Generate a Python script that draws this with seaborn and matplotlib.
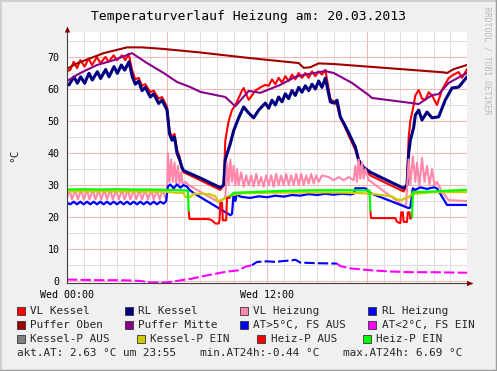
import matplotlib
matplotlib.use("Agg")
import matplotlib.pyplot as plt
import seaborn as sns
import pandas as pd
from matplotlib.patches import Rectangle, Polygon
from matplotlib.lines import Line2D

# ---------------- data ----------------
title_text = "Temperaturverlauf Heizung am: 20.03.2013"
x_tick_hours = [0, 6, 12, 18]
x_tick_labels = ["Wed 00:00", "", "Wed 12:00", ""]
y_ticks = [0, 10, 20, 30, 40, 50, 60, 70]
y_label = "°C"
watermark = "RRDTOOL / TOBI OETIKER"

legend_rows = [
    ["VL Kessel", "RL Kessel", "VL Heizung", "RL Heizung"],
    ["Puffer Oben", "Puffer Mitte", "AT>5°C, FS AUS", "AT<2°C, FS EIN"],
    ["Kessel-P AUS", "Kessel-P EIN", "Heiz-P AUS", "Heiz-P EIN"],
]
footer_parts = ["akt.AT: 2.63 °C um 23:55", "min.AT24h:-0.44 °C", "max.AT24h: 6.69 °C"]

vl_kessel_h = [0.0, 0.2, 0.4, 0.6, 0.8, 1.06, 1.3, 1.5, 1.8, 2.0, 2.3, 2.5, 2.8, 3.0, 3.3, 3.5, 3.7, 3.9,
               4.1, 4.3, 4.5, 4.7, 5.0, 5.2, 5.5, 5.7, 6.0, 6.15, 6.3, 6.45, 6.6, 6.75, 6.9, 7.0, 8.0, 9.2, 9.4,
               9.5, 9.7, 9.9, 10.1, 10.3, 10.5, 10.6, 10.9, 11.1, 11.3, 11.6, 11.9,
               12.1, 12.3, 12.5, 12.7, 12.9, 13.1, 13.3, 13.5, 13.7, 13.9, 14.1, 14.3, 14.5, 14.7, 14.9, 15.1, 15.3, 15.5,
               15.6, 15.8, 16.0, 16.2, 16.4, 16.6, 16.9, 17.3, 17.5, 17.8, 18.2, 20.2, 20.4, 20.5, 20.6, 20.8, 20.9,
               21.1, 21.3, 21.5, 21.7, 21.9, 22.2, 22.5, 22.9, 23.2, 23.5, 23.7, 24.0]
vl_kessel_v = [65.5, 66, 68.5, 66.5, 69, 67, 69.5, 67.5, 70, 68, 70, 68.5, 70.5, 69, 70.5, 69, 71, 66,
               63, 63.5, 61, 61.5, 59, 59.5, 57, 57.5, 54.5, 47, 45, 46, 41, 39, 35, 34, 31.5, 28.5, 30,
               44, 50, 53.4, 55, 57.2, 59.5, 60.3, 56.6, 58, 59.5, 60.5, 61.3,
               61, 63, 61.5, 63.5, 62, 64, 62.5, 64.5, 63, 65, 63.5, 65, 63.5, 65.5, 64, 65.5, 64.5, 66,
               63, 57, 56, 55, 51, 49, 45.5, 41, 37.5, 35, 33, 28, 30, 45, 50, 55, 58,
               59.7, 57, 56.6, 59, 58, 55, 59.7, 63.4, 64.5, 65.3, 63.5, 66.2]

rl_kessel_h = [0.0, 0.12, 0.42, 0.62, 0.82, 1.06, 1.32, 1.52, 1.82, 2.02, 2.32, 2.52, 2.82, 3.02, 3.26, 3.46, 3.72, 3.92,
               4.1, 4.3, 4.5, 4.7, 5.0, 5.2, 5.5, 5.7, 6.0, 6.15, 6.3, 6.45, 6.6, 6.75, 6.9, 7.0, 8.0, 9.2, 9.4,
               9.5, 9.8, 10.0, 10.3, 10.6, 10.9, 11.2, 11.5, 11.9,
               12.1, 12.3, 12.5, 12.7, 12.9, 13.1, 13.3, 13.5, 13.7, 13.9, 14.1, 14.3, 14.5, 14.7, 14.9, 15.1, 15.3, 15.5,
               15.6, 15.8, 16.0, 16.2, 16.4, 16.6, 16.9, 17.3, 17.5, 17.8, 18.2, 20.2, 20.4, 20.5, 20.6, 20.8, 20.9,
               21.1, 21.3, 21.6, 21.9, 22.3, 22.7, 23.1, 23.5, 23.8, 24.0]
rl_kessel_v = [61.5, 61.3, 63.8, 61.8, 63.8, 61.8, 64.9, 62.8, 65.4, 63.3, 66.1, 63.8, 67.0, 64.9, 67.5, 65.9, 68.5, 63.8,
               61.5, 62.5, 59.5, 60.5, 57.5, 58.5, 55.5, 56.5, 53.5, 46, 44, 45, 40, 38, 35.5, 34.5, 32.2, 29.2, 30,
               38, 43, 47, 51, 54.4, 52.5, 51, 53.4, 55.6,
               54, 56.5, 55, 57.5, 56, 58.5, 57, 59.5, 58, 60.5, 59, 61, 59.5, 61.5, 60, 62.5, 60.5, 63.4,
               61, 56, 55.6, 56.5, 51.3, 49.4, 46.3, 41.9, 37.8, 35.5, 34, 29, 30, 40, 44, 48, 51.9,
               53.4, 50.3, 52.8, 51, 51.3, 56.6, 60.3, 60.6, 62.5, 63.8]

vl_heizung_h = [0.0, 0.15, 0.3, 0.5, 0.65, 0.85, 1.0, 1.2, 1.35, 1.55, 1.7, 1.9, 2.05, 2.25, 2.4, 2.6, 2.75, 2.95,
                3.1, 3.3, 3.45, 3.65, 3.8, 4.0, 4.15, 4.35, 4.5, 4.7, 4.85, 5.05, 5.2, 5.4, 5.55, 5.75, 5.9,
                6.0, 6.05, 6.15, 6.25, 6.35, 6.45, 6.55, 6.65, 6.75, 6.85, 6.95, 7.1, 7.3, 9.05, 9.3, 9.5,
                9.6, 9.7, 9.8, 9.9, 10.0, 10.1, 10.2, 10.3, 10.45, 10.6, 10.75, 10.9, 11.05, 11.2, 11.35, 11.5,
                11.65, 11.8, 11.95, 12.1, 12.25, 12.4, 12.55, 12.7, 12.85, 13.0, 13.15, 13.3, 13.45, 13.6, 13.75,
                13.9, 14.05, 14.2, 14.35, 14.5, 14.65, 14.8, 14.95, 15.1, 15.3,
                15.7, 16.0, 16.3, 16.6, 16.9, 17.2, 17.3, 17.4, 17.5, 17.6, 17.7, 17.8, 17.9, 18.1, 20.2, 20.35,
                20.5, 20.6, 20.75, 20.9, 21.0, 21.15, 21.3, 21.45, 21.6, 21.75, 21.9, 22.05, 22.2, 22.5, 22.9, 24.0]
vl_heizung_v = [26, 28.5, 25.5, 28.5, 25.5, 28.5, 25.5, 28.5, 25.5, 28.5, 25.5, 28.5, 25.5, 28.5, 25.5, 28.5, 25.5, 28.5,
                25.5, 28.5, 25.5, 28.5, 25.5, 28.5, 25.5, 28.5, 25.5, 28.5, 25.5, 28.5, 25.5, 28.5, 25.5, 28.5, 26,
                27, 40, 31, 38, 31, 37, 30.5, 36, 30.5, 34, 30, 31, 30, 24.8, 25.5, 26,
                37, 30, 38, 31, 36, 30, 35, 30, 34, 29.5, 33, 30, 33, 29.5, 33.5, 30,
                32.5, 29.5, 33, 30, 33, 29.5, 33.5, 30, 33, 30, 33.5, 30, 33, 30, 33.5,
                30, 33.5, 30, 33, 30.5, 33.5, 30.5, 33, 31, 33,
                32.5, 31.5, 32.5, 31.5, 32.5, 31.5, 36, 31, 38, 32, 37, 32, 35, 31.6, 23.5, 24,
                38, 30, 39, 31, 37, 30, 38.5, 31, 36, 30, 35, 30, 31, 28, 25.3, 25]

rl_heizung_h = [0.0, 0.2, 0.4, 0.6, 0.8, 1.0, 1.2, 1.4, 1.6, 1.8, 2.0, 2.2, 2.4, 2.6, 2.8, 3.0, 3.2, 3.4, 3.6, 3.8,
                4.0, 4.2, 4.4, 4.6, 4.8, 5.0, 5.2, 5.4, 5.6, 5.8, 5.95, 6.05, 6.2, 6.4, 6.6, 6.8, 7.0, 7.2, 7.35,
                7.6, 9.8, 9.9, 10.0, 10.1, 10.2, 10.35, 10.5, 11.0, 11.5, 12.0, 12.5, 13.0, 13.5, 14.0, 14.5,
                15.0, 15.5, 16.0, 16.5, 17.0, 17.2, 17.3, 17.9, 18.2, 20.5, 20.6, 20.75, 20.9, 21.2, 21.6, 22.0,
                22.2, 22.8, 24.0]
rl_heizung_v = [24.5, 24.0, 24.8, 24.0, 24.8, 24.0, 24.8, 24.0, 24.8, 24.0, 24.8, 24.0, 24.8, 24.0, 24.8, 24.0, 24.8, 24.0, 24.8, 24.0,
                24.8, 24.0, 24.8, 24.0, 24.8, 24.0, 24.8, 24.0, 24.8, 24.2, 25.0, 29.5, 30.2, 29.0, 30.2, 29.2, 30.0, 29.5, 28.5,
                27.5, 20.6, 21.0, 27.5, 25.0, 27.5, 26.5, 26.3, 26.0, 26.5, 26.2, 26.7, 26.4, 26.9, 26.7, 27.2,
                26.9, 27.3, 27.0, 27.3, 27.1, 27.3, 29.0, 29.0, 27.5, 22.8, 23.0, 29.0, 28.5, 29.3, 28.8, 29.3,
                29.0, 23.8, 23.8]

puffer_oben_h = [0.0, 0.6, 1.1, 2.2, 3.6, 4.5, 5.8, 8.0, 10.9, 13.9, 14.2, 14.6, 15.1, 16.0, 22.6, 22.8, 23.2, 24.0]
puffer_oben_v = [66.3, 68.0, 69.0, 71.2, 73.0, 73.0, 72.5, 71.4, 69.7, 68.1, 66.6, 66.8, 68.0, 67.8, 65.2, 65.0, 66.2, 67.5]

puffer_mitte_h = [0.0, 0.8, 1.8, 2.8, 3.9, 4.8, 5.8, 6.6, 7.4, 8.0, 9.5, 10.1, 10.9, 11.6, 12.8, 13.7, 14.5,
                  15.5, 16.0, 17.1, 18.1, 18.3, 20.7, 21.1, 21.9, 22.3, 22.9, 24.0]
puffer_mitte_v = [62.5, 65.0, 67.5, 69.0, 71.2, 68.1, 65.0, 62.2, 60.6, 59.1, 57.5, 54.6, 59.4, 58.8, 61.3, 63.8, 64.7,
                  65.6, 65.0, 61.9, 58.1, 57.2, 55.6, 55.3, 58.1, 58.4, 61.9, 65.0]

at_warm_h = [11.1, 11.4, 12.0, 12.5, 13.0, 13.5, 13.7, 14.0, 15.0, 16.2]
at_warm_v = [5.0, 6.0, 6.2, 6.0, 6.3, 6.5, 6.69, 5.8, 5.6, 5.5]
at_cold_h1 = [0.0, 1.0, 2.0, 3.0, 4.0, 4.5, 5.0, 6.0, 6.5, 7.0, 7.5, 8.5, 9.5, 10.3, 10.7, 11.1]
at_cold_v1 = [0.5, 0.4, 0.3, 0.3, 0.2, 0.0, -0.4, -0.4, 0.0, 0.4, 0.8, 1.9, 2.9, 3.4, 4.5, 5.0]
at_cold_h2 = [16.2, 16.4, 17.0, 18.2, 19.5, 20.6, 22.0, 23.0, 24.0]
at_cold_v2 = [5.5, 4.7, 4.0, 3.4, 3.0, 2.8, 2.8, 2.7, 2.63]

kessel_p_ein_h = [0.0, 3.0, 6.0, 6.5, 7.0, 7.1, 7.4, 7.6, 8.5, 8.9, 9.05, 9.3, 9.6, 9.9, 10.5, 12.0, 14.0, 16.0,
                  17.6, 18.3, 18.8, 19.5, 19.8, 20.1, 20.3, 20.5, 20.7, 21.2, 22.0, 24.0]
kessel_p_ein_v = [28.0, 28.0, 27.9, 27.6, 27.6, 26.3, 26.3, 27.3, 27.2, 26.5, 25.0, 25.3, 26.3, 26.9, 27.4, 27.6, 27.7, 27.7,
                  27.5, 27.3, 26.9, 26.5, 25.5, 25.3, 26.0, 26.2, 27.2, 27.4, 27.8, 27.8]

heiz_p_ein_h1 = [0.0, 1.0, 2.0, 3.0, 4.0, 5.0, 6.0, 7.25, 7.3]
heiz_p_ein_v1 = [28.6, 28.7, 28.6, 28.7, 28.6, 28.6, 28.5, 28.3, 22.0]
heiz_p_ein_h2 = [9.8, 10.0, 11.0, 12.0, 13.0, 14.0, 15.0, 16.0, 17.0, 18.15, 18.2]
heiz_p_ein_v2 = [26.5, 27.6, 27.8, 28.0, 28.2, 28.3, 28.4, 28.4, 28.4, 28.3, 22.0]
heiz_p_ein_h3 = [20.7, 20.75, 21.5, 22.0, 23.0, 24.0]
heiz_p_ein_v3 = [20.0, 27.8, 27.9, 28.0, 28.3, 28.5]

heiz_p_aus_h1 = [7.3, 7.35, 8.5, 8.7, 8.9, 9.1, 9.15, 9.2, 9.3, 9.35, 9.55, 9.6, 9.75, 9.8]
heiz_p_aus_v1 = [22.0, 19.4, 19.4, 19.0, 18.0, 18.0, 19.0, 24.5, 24.5, 19.0, 19.0, 26.0, 26.0, 26.5]
heiz_p_aus_h2 = [18.2, 18.25, 19.7, 19.8, 20.0, 20.05, 20.15, 20.2, 20.4, 20.45, 20.55, 20.6, 20.7]
heiz_p_aus_v2 = [22.0, 19.7, 19.7, 18.5, 18.1, 21.5, 21.5, 18.5, 18.5, 21.5, 21.5, 19.5, 20.0]

# ---------------- assemble ----------------
segments = {
    "VL Kessel": [(vl_kessel_h, vl_kessel_v)],
    "RL Kessel": [(rl_kessel_h, rl_kessel_v)],
    "VL Heizung": [(vl_heizung_h, vl_heizung_v)],
    "RL Heizung": [(rl_heizung_h, rl_heizung_v)],
    "Puffer Oben": [(puffer_oben_h, puffer_oben_v)],
    "Puffer Mitte": [(puffer_mitte_h, puffer_mitte_v)],
    "AT>5°C, FS AUS": [(at_warm_h, at_warm_v)],
    "AT<2°C, FS EIN": [(at_cold_h1, at_cold_v1), (at_cold_h2, at_cold_v2)],
    "Kessel-P AUS": [],
    "Kessel-P EIN": [(kessel_p_ein_h, kessel_p_ein_v)],
    "Heiz-P AUS": [(heiz_p_aus_h1, heiz_p_aus_v1), (heiz_p_aus_h2, heiz_p_aus_v2)],
    "Heiz-P EIN": [(heiz_p_ein_h1, heiz_p_ein_v1), (heiz_p_ein_h2, heiz_p_ein_v2), (heiz_p_ein_h3, heiz_p_ein_v3)],
}

rows = []
for name, segs in segments.items():
    for si, (hs, vs) in enumerate(segs):
        for h, v in zip(hs, vs):
            rows.append({"series": name, "seg": si, "hour": h, "value": v})
df = pd.DataFrame(rows)

styles = {
    "VL Kessel": dict(color="#FF0000", lw=1.5, ls="-"),
    "RL Kessel": dict(color="#000080", lw=2.2, ls="-"),
    "VL Heizung": dict(color="#FF88AA", lw=1.5, ls="-"),
    "RL Heizung": dict(color="#0000FF", lw=1.6, ls="-"),
    "Puffer Oben": dict(color="#A00000", lw=1.5, ls="-"),
    "Puffer Mitte": dict(color="#880088", lw=1.5, ls="-"),
    "AT>5°C, FS AUS": dict(color="#0000FF", lw=1.5, ls=(0, (5, 1.5))),
    "AT<2°C, FS EIN": dict(color="#FF00FF", lw=1.5, ls=(0, (5, 1.5))),
    "Kessel-P AUS": dict(color="#808080", lw=1.5, ls="-"),
    "Kessel-P EIN": dict(color="#CCCC00", lw=1.6, ls="-"),
    "Heiz-P AUS": dict(color="#FF0000", lw=1.5, ls="-"),
    "Heiz-P EIN": dict(color="#00FF00", lw=1.6, ls="-"),
}

# ---------------- figure ----------------
sns.set_theme(style="white")
plt.rcParams["font.family"] = ["DejaVu Sans Mono", "DejaVu Sans"]

W, H = 497, 371
fig = plt.figure(figsize=(W / 100, H / 100), dpi=100, facecolor="#F0F0F0")

def fx(px):
    return px / W

def fy(py):
    return 1 - py / H

ax_left, ax_right, ax_top, ax_bot = 67, 467, 32, 283.4
ax = fig.add_axes([fx(ax_left), fy(ax_bot), (ax_right - ax_left) / W, (ax_bot - ax_top) / H])
ax.set_facecolor("white")

for name, segs in segments.items():
    sub = df[df["series"] == name]
    if sub.empty:
        continue
    st = styles[name]
    sns.lineplot(data=sub, x="hour", y="value", units="seg", estimator=None, sort=False,
                 color=st["color"], linewidth=st["lw"], linestyle=st["ls"], ax=ax, legend=False)

ax.set_xlim(0, 24)
ax.set_ylim(-0.7, 77.8)
ax.set_xticks(x_tick_hours)
ax.set_xticklabels(x_tick_labels)
ax.set_xticks(list(range(1, 24)), minor=True)
ax.set_yticks(y_ticks)
ax.set_yticklabels([str(t) for t in y_ticks])
ax.set_yticks([5, 15, 25, 35, 45, 55, 65, 75], minor=True)
ax.set_xlabel("")
ax.set_ylabel("")
ax.grid(which="minor", color="#DDDDDD", lw=0.7, zorder=0)
ax.grid(which="major", color="#F4B4B4", lw=0.7, zorder=0)
ax.set_axisbelow(True)
for s in ["top", "right"]:
    ax.spines[s].set_visible(False)
for s in ["left", "bottom"]:
    ax.spines[s].set_color("#404040")
    ax.spines[s].set_linewidth(0.8)
ax.tick_params(which="both", direction="inout", color="#404040", width=0.6,
               labelsize=7.2, colors="#404040", labelcolor="black")
ax.tick_params(which="major", length=3)
ax.tick_params(which="minor", length=2)
ax.tick_params(axis="y", pad=4)
ax.tick_params(axis="x", pad=3.5)
for lab in ax.get_xticklabels() + ax.get_yticklabels():
    lab.set_family("DejaVu Sans Mono")

# axis arrows
fig.add_artist(Polygon([[fx(64.8), fy(32.5)], [fx(70.2), fy(32.5)], [fx(67.5), fy(26.5)]],
                       closed=True, transform=fig.transFigure, color="#800000", lw=0))
fig.add_artist(Polygon([[fx(467), fy(280.8)], [fx(467), fy(286.2)], [fx(473.5), fy(283.5)]],
                       closed=True, transform=fig.transFigure, color="#800000", lw=0))

# frame shading
fig.add_artist(Line2D([0, 0, 1], [0, 1, 1], transform=fig.transFigure, color="#CFCFCF", lw=2))
fig.add_artist(Line2D([0, 1, 1], [0, 0, 1], transform=fig.transFigure, color="#9E9E9E", lw=2.5))

# title, y label, watermark
fig.text(fx(249), fy(16.5), title_text, ha="center", va="center", fontsize=9.4,
         family="DejaVu Sans Mono", color="black")
fig.text(fx(14), fy(155), y_label, ha="center", va="center", rotation=90, fontsize=8,
         family="DejaVu Sans Mono")
fig.text(fx(486.5), fy(7), watermark, ha="center", va="top", rotation=270, fontsize=5.8,
         family="DejaVu Sans Mono", color="#BBBBBB")

# legend
row_y = [311, 324.7, 339]
box_x = [[17, 125, 240, 368], [17, 125, 240, 368], [17, 137, 257, 363]]
text_x = [[30, 138.3, 253.3, 382.3], [30, 138.3, 253.3, 382.3], [30, 150, 271, 376]]
for r, names in enumerate(legend_rows):
    for c, name in enumerate(names):
        bx, ty = box_x[r][c], row_y[r]
        fig.add_artist(Rectangle((fx(bx), fy(ty + 3.8)), 7.6 / W, 7.6 / H, transform=fig.transFigure,
                                 facecolor=styles[name]["color"], edgecolor="#333333", lw=0.6))
        fig.text(fx(text_x[r][c]), fy(ty), name, ha="left", va="center", fontsize=7.9,
                 family="DejaVu Sans Mono")

footer_x = [17, 200, 342.7]
for fxp, part in zip(footer_x, footer_parts):
    fig.text(fx(fxp), fy(352.7), part, ha="left", va="center", fontsize=7.9, family="DejaVu Sans Mono")

fig.savefig("out.png", dpi=100, facecolor=fig.get_facecolor())
